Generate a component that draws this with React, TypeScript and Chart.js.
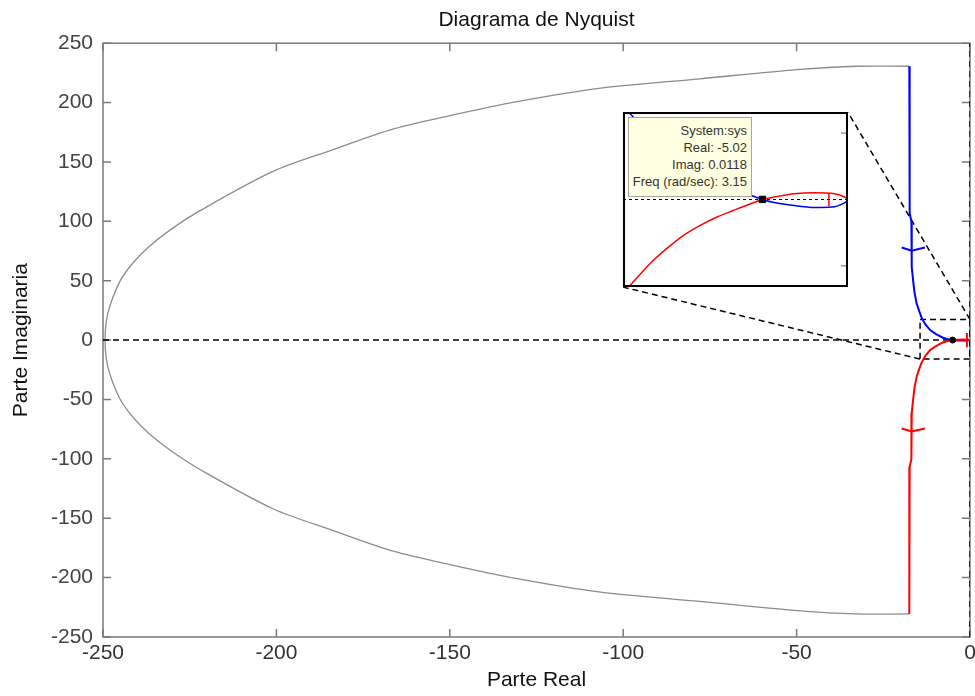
import React, { useEffect, useRef } from "react";
import { Chart, registerables } from "chart.js";

Chart.register(...registerables);

// ---------- text ----------
const TITLE = "Diagrama de Nyquist";
const X_LABEL = "Parte Real";
const Y_LABEL = "Parte Imaginaria";
const DATATIP_LINES = ["System:sys", "Real: -5.02", "Imag: 0.0118", "Freq (rad/sec): 3.15"];

// ---------- ticks ----------
const X_TICKS = [-250, -200, -150, -100, -50, 0];
const Y_TICKS = [-250, -200, -150, -100, -50, 0, 50, 100, 150, 200, 250];
const INSET_Y_TICKS = [-10, 10];

// ---------- main plot data ----------
// grey closing contour (large arc)
const grayRe = [-17.5, -33, -49, -78, -107, -131, -150, -166, -184, -201, -222, -230.5, -237, -241.5, -245.2, -248.6, -249.4,
  -248.6, -245.2, -241.5, -237, -230.5, -222, -201, -184, -166, -150, -131, -107, -78, -49, -33, -17.5];
const grayIm = [230.6, 230.6, 228, 220, 212, 200.6, 189, 178, 160, 142, 109, 93, 78, 64.5, 49, 22.5, 0,
  -22.5, -49, -64.5, -78, -93, -109, -142, -160, -178, -189, -200.6, -212, -220, -228, -230.6, -230.6];

// blue branch (positive frequencies)
const blueRe = [-17.5, -17.4, -16.9, -16.8, -16.4, -16.0, -15.4, -14.6, -13.9, -12.8, -11.5, -9.8, -7.8, -6.2, -5.02, -3.5, -2, -1, 0];
const blueIm = [230.6, 107, 100, 61.5, 50, 40, 31, 24, 18.5, 13, 8.4, 5, 2, 0.6, 0.01, -0.3, -0.4, -0.3, 0];

// red branch (negative frequencies)
const redRe = [0, -1, -2, -3.5, -5.02, -6.2, -7.8, -9.8, -11.5, -12.8, -13.9, -14.6, -15.4, -16.0, -16.4, -16.8, -16.9, -17.4, -17.5];
const redIm = [0, 0.3, 0.4, 0.3, 0.01, -0.6, -2, -5, -8.4, -13, -18.5, -24, -31, -40, -50, -61.5, -100, -107, -230.6];

// direction arrows
const blueArrowRe = [-19.7, -16.8, -13];
const blueArrowIm = [78, 75.2, 78];
const redArrowRe = [-19.7, -16.8, -13];
const redArrowIm = [-74.4, -77, -74.4];
const redTickRe = [-0.9, -0.9];
const redTickIm = [6, -6];

// selected point (data tip)
const markRe = [-5.02];
const markIm = [0.0118];

// reference axes (dashed)
const realAxisRe = [-250, 0];
const realAxisIm = [0, 0];
const imagAxisRe = [0, 0];
const imagAxisIm = [-250, 250];

// zoom rectangle and connectors
const zoomBoxRe = [-14.4, 0, 0, -14.4, -14.4];
const zoomBoxIm = [17.4, 17.4, -16, -16, 17.4];
const INSET_RE = [-100, -35.2];
const INSET_IM = [44.6, 191.9];
const connTopRe = [0, -35.2];
const connTopIm = [17.4, 191.9];
const connBotRe = [-14.4, -100];
const connBotIm = [-16, 44.6];

// ---------- inset (zoomed) data ----------
const INSET_X_RANGE = [-13.2, 0];
const INSET_Y_RANGE = [-13.2, 13.2];
const inRedRe = [-12.9, -11.62, -10.64, -9.65, -8.67, -7.68, -6.7, -5.71, -5.02, -4.33, -3.15, -1.97, -0.79, -0.2, 0];
const inRedIm = [-13.3, -9.68, -7.42, -5.41, -3.9, -2.64, -1.63, -0.63, 0.0118, 0.38, 0.88, 1.03, 0.88, 0.38, 0];
const inBlueRe = [-12.9, -11.62, -10.64, -9.65, -8.67, -7.68, -6.7, -5.71, -5.02, -4.33, -3.15, -1.97, -0.79, -0.2, 0];
const inBlueIm = [13.3, 9.68, 7.42, 5.41, 3.9, 2.64, 1.63, 0.63, 0.0118, -0.45, -0.9, -1.2, -1.1, -0.5, -0.1];
const inZeroRe = [-13.2, 0];
const inZeroIm = [0, 0];
const inTickRe = [-1.12, -1.12];
const inTickIm = [0.95, -1.0];

const FONT = "'Liberation Sans', Arial, Helvetica, sans-serif";

const pts = (re: number[], im: number[]) => re.map((x, i) => ({ x, y: im[i] }));

const line = (re: number[], im: number[], color: string, width: number, extra: any = {}) => ({
  data: pts(re, im),
  showLine: true,
  borderColor: color,
  backgroundColor: color,
  borderWidth: width,
  pointRadius: 0,
  fill: false,
  ...extra,
});

const framePlugin = {
  id: "mainFrame",
  beforeDatasetsDraw(chart: any) {
    const { ctx, chartArea: a, scales } = chart;
    const x = scales.x, y = scales.y;
    ctx.save();
    ctx.strokeStyle = "#7a7a7a";
    ctx.lineWidth = 1.5;
    ctx.strokeRect(a.left, a.top, a.right - a.left, a.bottom - a.top);
    ctx.beginPath();
    const L = 8;
    x.ticks.forEach((t: any) => {
      const px = x.getPixelForValue(t.value);
      ctx.moveTo(px, a.bottom); ctx.lineTo(px, a.bottom - L);
      ctx.moveTo(px, a.top); ctx.lineTo(px, a.top + L);
    });
    y.ticks.forEach((t: any) => {
      const py = y.getPixelForValue(t.value);
      ctx.moveTo(a.left, py); ctx.lineTo(a.left + L, py);
      ctx.moveTo(a.right, py); ctx.lineTo(a.right - L, py);
    });
    ctx.stroke();
    ctx.restore();
  },
};

const insetFramePlugin = {
  id: "insetFrame",
  beforeDraw(chart: any) {
    const { ctx, width, height } = chart;
    ctx.save();
    ctx.fillStyle = "#ffffff";
    ctx.fillRect(0, 0, width, height);
    ctx.restore();
  },
  afterDatasetsDraw(chart: any) {
    const { ctx, chartArea: a, scales } = chart;
    const y = scales.y;
    ctx.save();
    ctx.strokeStyle = "#808080";
    ctx.lineWidth = 1.2;
    ctx.beginPath();
    INSET_Y_TICKS.forEach((v) => {
      const py = y.getPixelForValue(v);
      ctx.moveTo(a.right, py); ctx.lineTo(a.right - 7, py);
    });
    ctx.stroke();
    ctx.strokeStyle = "#000000";
    ctx.lineWidth = 2;
    ctx.strokeRect(a.left + 1, a.top + 1, a.right - a.left - 2, a.bottom - a.top - 2);
    ctx.restore();
  },
};

export default function App() {
  const mainRef = useRef<HTMLCanvasElement>(null);
  const insetRef = useRef<HTMLCanvasElement>(null);
  const insetBoxRef = useRef<HTMLDivElement>(null);

  useEffect(() => {
    const dash = [6, 4];
    const main = new Chart(mainRef.current as HTMLCanvasElement, {
      type: "scatter",
      data: {
        datasets: [
          line(markRe, markIm, "#000000", 1, { showLine: false, pointRadius: 3, pointBackgroundColor: "#000", order: 0 }),
          line(redTickRe, redTickIm, "#ff0000", 2, { order: 1 }),
          line(redRe, redIm, "#ff0000", 2, { order: 2 }),
          line(blueRe, blueIm, "#0000ff", 2, { order: 3 }),
          line(blueArrowRe, blueArrowIm, "#0000ff", 2, { order: 4 }),
          line(redArrowRe, redArrowIm, "#ff0000", 2, { order: 4 }),
          line(realAxisRe, realAxisIm, "#000000", 1.5, { borderDash: dash, order: 5 }),
          line(imagAxisRe, imagAxisIm, "#000000", 1.5, { borderDash: dash, order: 5 }),
          line(zoomBoxRe, zoomBoxIm, "#000000", 1.5, { borderDash: dash, order: 5 }),
          line(connTopRe, connTopIm, "#000000", 1.5, { borderDash: dash, order: 5 }),
          line(connBotRe, connBotIm, "#000000", 1.5, { borderDash: dash, order: 5 }),
          line(grayRe, grayIm, "#8c8c8c", 1.3, { tension: 0.3, order: 6 }),
        ] as any,
      },
      options: {
        animation: false,
        responsive: true,
        maintainAspectRatio: false,
        layout: { autoPadding: false, padding: { left: 0, right: 5, top: 0, bottom: 0 } },
        plugins: {
          legend: { display: false },
          tooltip: { enabled: false },
          title: {
            display: true,
            fullSize: false,
            text: TITLE,
            color: "#111111",
            font: { family: FONT, size: 21, weight: "normal" },
            padding: { top: 8, bottom: 10 },
          },
        },
        scales: {
          x: {
            type: "linear",
            min: -250,
            max: 0,
            afterBuildTicks: (s: any) => { s.ticks = X_TICKS.map((v) => ({ value: v })); },
            afterFit: (s: any) => { s.height = 59; s.paddingRight = 0; s.paddingLeft = 0; },
            grid: { display: false, drawTicks: false, drawOnChartArea: false },
            border: { display: false },
            ticks: { color: "#333333", font: { family: FONT, size: 21 }, padding: 4, maxRotation: 0 },
            title: { display: true, text: X_LABEL, color: "#111111", font: { family: FONT, size: 21 }, padding: { top: 0, bottom: 3 } },
          },
          y: {
            type: "linear",
            min: -250,
            max: 250,
            afterBuildTicks: (s: any) => { s.ticks = Y_TICKS.map((v) => ({ value: v })); },
            afterFit: (s: any) => { s.width = 103; },
            grid: { display: false, drawTicks: false, drawOnChartArea: false },
            border: { display: false },
            ticks: { color: "#444444", font: { family: FONT, size: 21 }, padding: 10 },
            title: { display: true, text: Y_LABEL, color: "#111111", font: { family: FONT, size: 21 }, padding: { top: 9, bottom: 0 } },
          },
        },
      } as any,
      plugins: [framePlugin],
    });

    const xs: any = main.scales.x;
    const ys: any = main.scales.y;
    const l = xs.getPixelForValue(INSET_RE[0]);
    const r = xs.getPixelForValue(INSET_RE[1]);
    const t = ys.getPixelForValue(INSET_IM[1]);
    const b = ys.getPixelForValue(INSET_IM[0]);
    const box = insetBoxRef.current as HTMLDivElement;
    box.style.left = `${Math.round(l)}px`;
    box.style.top = `${Math.round(t)}px`;
    box.style.width = `${Math.round(r - l)}px`;
    box.style.height = `${Math.round(b - t)}px`;
    box.style.display = "block";

    const inset = new Chart(insetRef.current as HTMLCanvasElement, {
      type: "scatter",
      data: {
        datasets: [
          line(markRe, markIm, "#000000", 1, { showLine: false, pointRadius: 4.5, pointStyle: "rect", pointBackgroundColor: "#000", order: 0 }),
          line(inTickRe, inTickIm, "#ff0000", 1.5, { order: 1 }),
          line(inZeroRe, inZeroIm, "#000000", 1, { borderDash: [3, 3], order: 2 }),
          line(inRedRe, inRedIm, "#ff0000", 1.5, { tension: 0.3, order: 3 }),
          line(inBlueRe, inBlueIm, "#0000ff", 1.5, { tension: 0.3, order: 4 }),
        ] as any,
      },
      options: {
        animation: false,
        responsive: true,
        maintainAspectRatio: false,
        layout: { autoPadding: false, padding: 0 },
        plugins: { legend: { display: false }, tooltip: { enabled: false }, title: { display: false } },
        scales: {
          x: { type: "linear", min: INSET_X_RANGE[0], max: INSET_X_RANGE[1], display: false },
          y: { type: "linear", min: INSET_Y_RANGE[0], max: INSET_Y_RANGE[1], display: false },
        },
      } as any,
      plugins: [insetFramePlugin],
    });

    return () => {
      inset.destroy();
      main.destroy();
    };
  }, []);

  return (
    <div style={{ position: "absolute", left: 0, top: 0, width: 975, height: 696, background: "#ffffff" }}>
      <div style={{ position: "absolute", left: 0, top: 0, width: 975, height: 696 }}>
        <canvas ref={mainRef} />
      </div>
      <div ref={insetBoxRef} style={{ position: "absolute", display: "none" }}>
        <div style={{ position: "absolute", left: 0, top: 0, width: "100%", height: "100%" }}>
          <canvas ref={insetRef} />
        </div>
        <div
          style={{
            position: "absolute",
            left: 5,
            top: 5,
            width: 124,
            height: 80,
            boxSizing: "border-box",
            background: "#ffffe1",
            border: "1px solid #a8a89a",
            fontFamily: FONT,
            fontSize: 13,
            lineHeight: "17px",
            color: "#333333",
            textAlign: "right",
            paddingTop: 4,
            paddingRight: 4,
            whiteSpace: "nowrap",
          }}
        >
          {DATATIP_LINES.map((s, i) => (
            <div key={i}>{s}</div>
          ))}
        </div>
      </div>
    </div>
  );
}
